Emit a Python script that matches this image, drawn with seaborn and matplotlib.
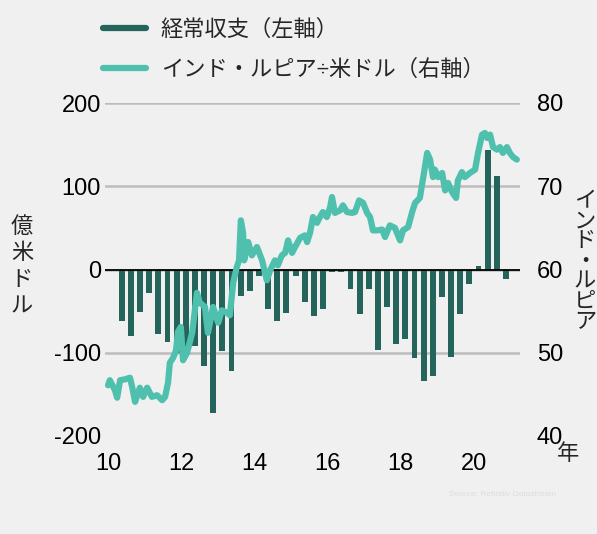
import matplotlib
matplotlib.use('Agg')
import numpy as np
import pandas as pd
import matplotlib.pyplot as plt
import seaborn as sns
from matplotlib.lines import Line2D

# 経常収支（四半期、億米ドル）: 2010Q2 ～ 2020Q4
ca_start, ca_end = '2010Q2', '2020Q4'
ca_values = [-62, -80, -51, -28, -78, -87, -100, -95, -92, -116, -172, -98,
             -122, -32, -26, -8, -48, -62, -52, -8, -39, -56, -48, -3,
             -3, -24, -54, -24, -97, -45, -90, -84, -106, -134, -128, -33,
             -105, -53, -18, 4, 144, 112, -12]

# インド・ルピア÷米ドル（右軸）
inr_year = [2010.00, 2010.05, 2010.19, 2010.25, 2010.33, 2010.46, 2010.60, 2010.66,
            2010.74, 2010.87, 2010.96, 2011.07, 2011.20, 2011.34, 2011.48, 2011.56,
            2011.64, 2011.69, 2011.78, 2011.86, 2011.91, 2011.99, 2012.05, 2012.16,
            2012.30, 2012.43, 2012.51, 2012.65, 2012.73, 2012.87, 2013.01, 2013.11,
            2013.25, 2013.33, 2013.42, 2013.52, 2013.58, 2013.63, 2013.69, 2013.72,
            2013.83, 2013.93, 2014.07, 2014.21, 2014.34, 2014.43, 2014.56, 2014.64,
            2014.75, 2014.84, 2014.92, 2015.03, 2015.11, 2015.25, 2015.38, 2015.44,
            2015.52, 2015.60, 2015.71, 2015.79, 2015.87, 2015.98, 2016.07, 2016.12,
            2016.20, 2016.34, 2016.42, 2016.53, 2016.67, 2016.75, 2016.86, 2016.97,
            2017.08, 2017.16, 2017.24, 2017.35, 2017.49, 2017.57, 2017.70, 2017.84,
            2017.98, 2018.06, 2018.20, 2018.31, 2018.39, 2018.52, 2018.63, 2018.72,
            2018.80, 2018.88, 2018.93, 2019.02, 2019.13, 2019.21, 2019.29, 2019.40,
            2019.51, 2019.56, 2019.67, 2019.75, 2019.89, 2020.03, 2020.11, 2020.22,
            2020.30, 2020.36, 2020.44, 2020.52, 2020.63, 2020.71, 2020.79, 2020.90,
            2020.98, 2021.07, 2021.17]
inr_rate = [46.1, 46.7, 45.5, 44.6, 46.7, 46.8, 47.0, 45.9,
            44.1, 45.8, 44.7, 45.8, 44.7, 44.9, 44.3, 44.7,
            46.4, 48.8, 49.4, 50.3, 52.5, 53.1, 49.1, 50.0,
            52.4, 57.2, 56.0, 55.5, 52.4, 55.5, 53.6, 55.1,
            54.8, 54.5, 58.4, 60.3, 61.1, 65.9, 64.4, 61.1,
            63.3, 61.7, 62.7, 61.1, 58.7, 59.9, 61.1, 60.5,
            61.7, 62.0, 63.5, 62.0, 62.7, 63.8, 64.1, 63.3,
            64.4, 66.3, 65.6, 66.3, 66.9, 66.3, 67.5, 68.7,
            66.8, 67.1, 67.7, 66.9, 66.8, 66.9, 68.3, 68.0,
            66.8, 66.3, 64.7, 64.7, 64.8, 63.9, 65.3, 65.0,
            63.5, 64.7, 65.1, 66.9, 68.0, 68.6, 71.5, 74.0,
            73.2, 71.1, 72.0, 71.1, 71.6, 69.5, 70.4, 69.3,
            68.6, 70.7, 71.7, 71.1, 71.6, 72.0, 74.0, 76.2,
            76.4, 75.8, 76.2, 74.7, 74.4, 74.7, 74.0, 74.7,
            74.0, 73.5, 73.2]

left_ticks = [-200, -100, 0, 100, 200]
right_ticks = [40, 50, 60, 70, 80]
x_ticks = [2010, 2012, 2014, 2016, 2018, 2020]
x_labels = ['10', '12', '14', '16', '18', '20']

legend_labels = ['経常収支（左軸）', 'インド・ルピア÷米ドル（右軸）']

bar_color = '#25645a'
line_color = '#50c0ae'
bg = '#f0f0f0'
grid_color = '#bcbcbc'

sns.set_theme(style='white')
plt.rcParams['font.family'] = ['Liberation Sans', 'Noto Sans CJK JP', 'DejaVu Sans']

# 四半期の中央に棒を置く
quarters = pd.period_range(ca_start, ca_end, freq='Q')
ca_df = pd.DataFrame({'pos': quarters.year + (quarters.quarter - 0.5) / 4,
                      'value': ca_values})

fig = plt.figure(figsize=(5.97, 5.34), dpi=100, facecolor=bg)
ax = fig.add_axes([105 / 597, 1 - 436 / 534, 415 / 597, 333 / 534])
ax.set_facecolor(bg)

for v in [200, 100, 0, -100]:
    ax.axhline(v, color=grid_color, lw=1.8, zorder=0)

ax.bar(ca_df['pos'], ca_df['value'], width=0.16, color=bar_color, lw=0, zorder=2)
ax.axhline(0, color='black', lw=1.3, zorder=3)

ax.set_xlim(2009.918, 2021.257)
ax.set_ylim(-200, 200)
ax.set_yticks(left_ticks)
ax.set_yticklabels([str(t) for t in left_ticks])
ax.set_xticks(x_ticks)
ax.set_xticklabels(x_labels)
ax.tick_params(axis='both', length=0, labelsize=17, colors='black')
ax.tick_params(axis='y', pad=3)
ax.tick_params(axis='x', pad=12)
for s in ax.spines.values():
    s.set_visible(False)

ax2 = ax.twinx()
sns.lineplot(x=inr_year, y=inr_rate, ax=ax2, color=line_color, lw=4.5,
             solid_capstyle='round', solid_joinstyle='round')
ax2.set_ylim(40, 80)
ax2.set_yticks(right_ticks)
ax2.set_yticklabels([str(t) for t in right_ticks])
ax2.tick_params(axis='y', length=0, labelsize=17, pad=12, colors='black')
ax2.set_ylabel('')
for s in ax2.spines.values():
    s.set_visible(False)

handles = [Line2D([], [], color=bar_color, lw=4.5),
           Line2D([], [], color=line_color, lw=4.5)]
fig.legend(handles, legend_labels, loc='upper left',
           bbox_to_anchor=(103 / 597, 1 - 20 / 534), frameon=False,
           fontsize=16, handlelength=1.95, handletextpad=0.65,
           labelspacing=0.82, borderpad=0, borderaxespad=0)

fig.text(22 / 597, 1 - 267 / 534, '\n'.join('億米ドル'), ha='center', va='center',
         fontsize=16, linespacing=1.35)
fig.text(585 / 597, 1 - 262 / 534, '\n'.join('インド・ルピア'), ha='center',
         va='center', fontsize=16, linespacing=0.95)
fig.text(568 / 597, 1 - 455 / 534, '年', ha='center', va='center', fontsize=16)
fig.text(503 / 597, 1 - 495 / 534, 'Source: Refinitiv Datastream', ha='center',
         va='center', fontsize=6, color='#dddddd')

fig.savefig('out.png', dpi=100, facecolor=bg)
